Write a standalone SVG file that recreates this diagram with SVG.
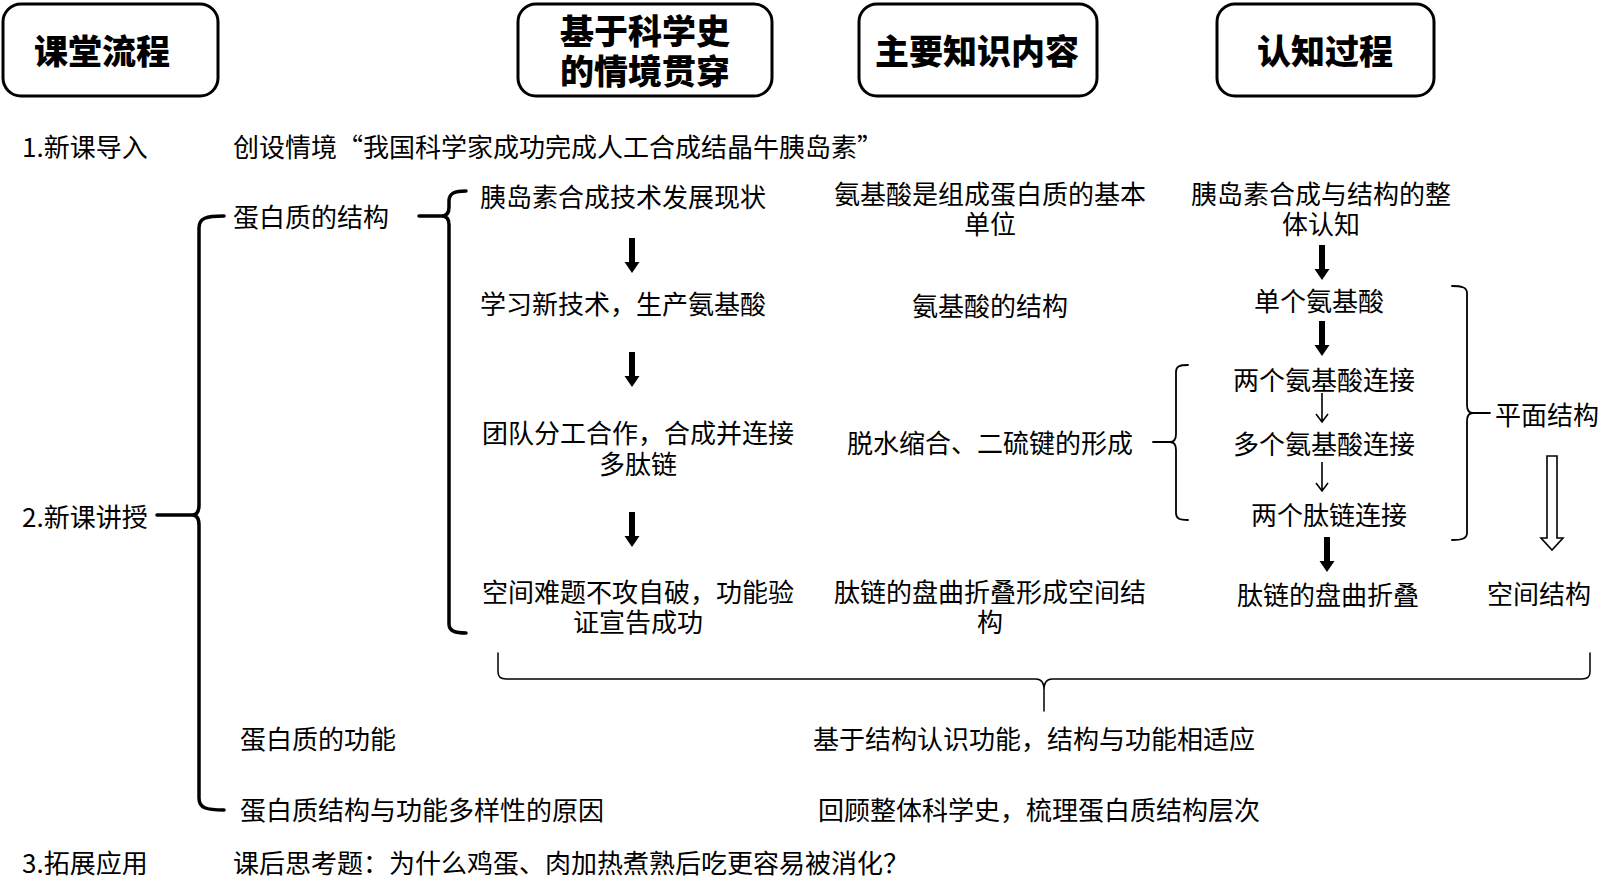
<svg xmlns="http://www.w3.org/2000/svg" width="1600" height="879" viewBox="0 0 1600 879">
<style>
.bg{fill:#fff}
.hdr rect{fill:#fff;stroke:#000;stroke-width:3}
.hdr text{font-family:"Noto Sans CJK SC","Noto Sans",sans-serif;font-weight:900;font-size:34px;fill:#000;text-anchor:middle;dominant-baseline:central}
text.t{font-family:"Noto Sans CJK SC","Noto Sans",sans-serif;font-size:26px;fill:#000;dominant-baseline:central}
text.c{text-anchor:middle}
.br{fill:none;stroke:#000;stroke-linecap:round;stroke-linejoin:round}
.thick{stroke-width:3.5}
.thin{stroke-width:1.8}
.hair{stroke-width:1.5}
.tk{fill:#000}
.tn{fill:none;stroke:#000;stroke-width:1.6}
.hol{fill:#fff;stroke:#000;stroke-width:1.6}
</style>
<defs>
<path id="thk" d="M-3,0 H3 V24 H7.5 L0,35 L-7.5,24 H-3 Z"/>
<path id="tna" d="M0,0 V29 M-6,21 L0,29 L6,21"/>
</defs>
<rect class="bg" x="0" y="0" width="1600" height="879"/>

<g id="header-flow" class="hdr"><rect x="3" y="4" width="215" height="92" rx="18"/><text x="102" y="49">课堂流程</text></g>
<g id="header-history" class="hdr"><rect x="518" y="4" width="254" height="92" rx="18"/><text x="645" y="29">基于科学史<tspan x="645" dy="40">的情境贯穿</tspan></text></g>
<g id="header-knowledge" class="hdr"><rect x="859" y="4" width="238" height="92" rx="18"/><text x="977" y="49">主要知识内容</text></g>
<g id="header-cognition" class="hdr"><rect x="1217" y="4" width="217" height="92" rx="18"/><text x="1325" y="49">认知过程</text></g>

<g id="step1"><text class="t" x="22" y="145">1.新课导入</text><text class="t" x="233" y="145">创设情境“我国科学家成功完成人工合成结晶牛胰岛素”</text></g>
<g id="step2"><text class="t" x="22" y="515">2.新课讲授</text></g>
<g id="structure"><text class="t" x="233" y="215">蛋白质的结构</text></g>

<g id="hist1"><text class="t" x="480" y="195">胰岛素合成技术发展现状</text></g>
<g id="hist2"><text class="t" x="480" y="302">学习新技术，生产氨基酸</text></g>
<g id="hist3"><text class="t c" x="638" y="431">团队分工合作，合成并连接<tspan x="638" dy="31">多肽链</tspan></text></g>
<g id="hist4"><text class="t c" x="638" y="590">空间难题不攻自破，功能验<tspan x="638" dy="30">证宣告成功</tspan></text></g>

<g id="know1"><text class="t c" x="990" y="192">氨基酸是组成蛋白质的基本<tspan x="990" dy="30">单位</tspan></text></g>
<g id="know2"><text class="t c" x="990" y="304">氨基酸的结构</text></g>
<g id="know3"><text class="t c" x="990" y="441">脱水缩合、二硫键的形成</text></g>
<g id="know4"><text class="t c" x="990" y="590">肽链的盘曲折叠形成空间结<tspan x="990" dy="30">构</tspan></text></g>

<g id="cog1"><text class="t c" x="1321" y="192">胰岛素合成与结构的整<tspan x="1321" dy="30">体认知</tspan></text></g>
<g id="cog2"><text class="t c" x="1319" y="299">单个氨基酸</text></g>
<g id="cog3"><text class="t c" x="1324" y="378">两个氨基酸连接</text></g>
<g id="cog4"><text class="t c" x="1324" y="442">多个氨基酸连接</text></g>
<g id="cog5"><text class="t c" x="1329" y="513">两个肽链连接</text></g>
<g id="cog6"><text class="t c" x="1328" y="593">肽链的盘曲折叠</text></g>
<g id="plane"><text class="t" x="1495" y="413">平面结构</text></g>
<g id="space"><text class="t c" x="1539" y="592">空间结构</text></g>

<g id="function"><text class="t" x="240" y="737">蛋白质的功能</text><text class="t" x="813" y="737">基于结构认识功能，结构与功能相适应</text></g>
<g id="diversity"><text class="t" x="240" y="808">蛋白质结构与功能多样性的原因</text><text class="t" x="818" y="808">回顾整体科学史，梳理蛋白质结构层次</text></g>
<g id="step3"><text class="t" x="22" y="861">3.拓展应用</text><text class="t" x="233" y="861">课后思考题：为什么鸡蛋、肉加热煮熟后吃更容易被消化？</text></g>

<g id="connectors">
<path class="br thick" d="M224,216 C206,216 199,218 199,228 V505 Q199,515 192,515 Q199,515 199,525 V798 C199,808 206,810 224,810 M157,515 H192"/>
<path class="br thick" d="M466,191 C455,191 449,193 449,201 V207 Q449,216 442,216 Q449,216 449,225 V624 C449,631 455,633 466,633 M419,216 H442"/>
<path class="br thin" d="M1188,365 C1180,365 1176,366 1176,372 V434 Q1176,442 1170,442 Q1176,442 1176,450 V513 C1176,519 1180,520 1188,520 M1153,442 H1170"/>
<path class="br thin" d="M1452,286 C1461,286 1467,287 1467,293 V405 Q1467,413 1473,413 Q1467,413 1467,421 V533 C1467,539 1461,540 1452,540 M1473,413 H1490"/>
<path class="br hair" d="M498,653 V672 Q498,679 506,679 H1036 Q1044,679 1044,690 V711 M1044,690 Q1044,679 1052,679 H1582 Q1590,679 1590,672 V653"/>
<use href="#thk" class="tk" x="632" y="238"/>
<use href="#thk" class="tk" x="632" y="352"/>
<use href="#thk" class="tk" x="632" y="512"/>
<use href="#thk" class="tk" x="1322" y="245"/>
<use href="#thk" class="tk" x="1322" y="321"/>
<use href="#thk" class="tk" x="1327" y="537"/>
<use href="#tna" class="tn" x="1322" y="393"/>
<use href="#tna" class="tn" x="1322" y="462"/>
<path class="hol" d="M1547,456 H1557 V538 H1563 L1552,550 L1541,538 H1547 Z"/>
</g>
</svg>
